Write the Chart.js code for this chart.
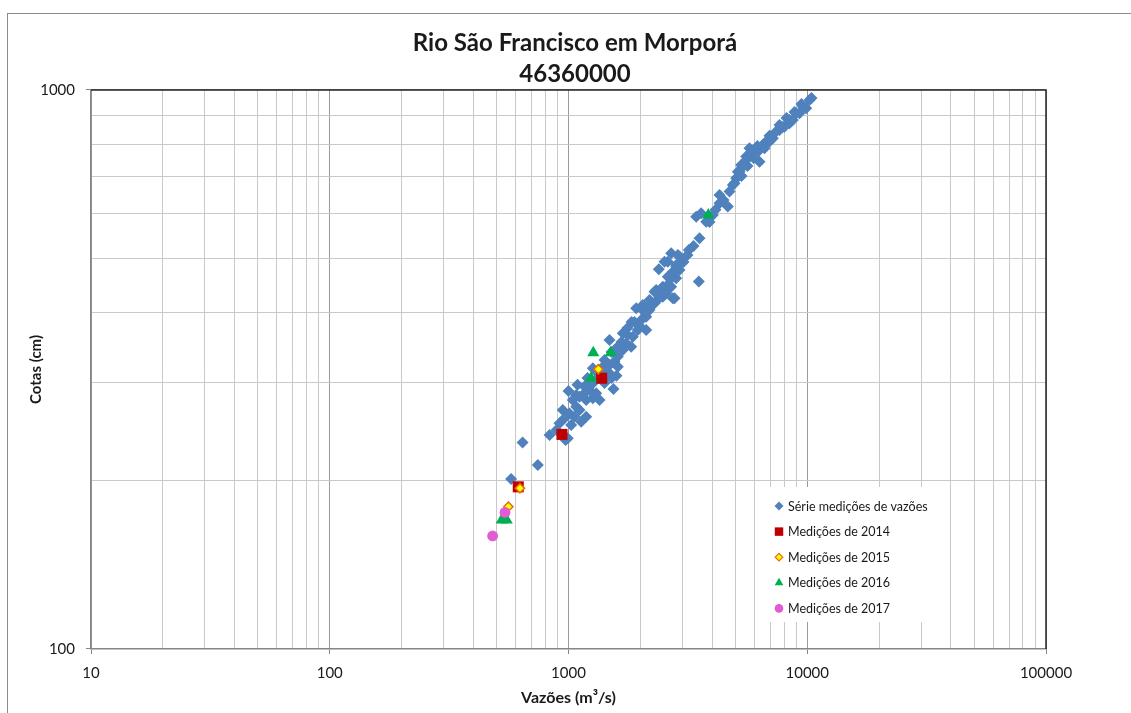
<!DOCTYPE html>
<html>
<head>
<meta charset="utf-8">
<script src="https://cdn.jsdelivr.net/npm/chart.js@4.4.1/dist/chart.umd.min.js"></script>
<style>
    html, body { margin: 0; padding: 0; background: #fff; overflow: hidden; }
    #frame { position: absolute; left: 7px; top: 13px; width: 1300px; height: 900px; border: 1px solid #8c8c8c; }
    #wrap { position: absolute; left: 0; top: 0; width: 1131px; height: 713px; }
</style>
</head>
<body>
<div id="frame"></div>
<div id="wrap"><canvas id="curva" width="1131" height="713"></canvas></div>
<script>

//
// Data (vazão m3/s, cota cm)
//

const serieQ = [
    575, 744, 642, 833, 993, 917, 962, 1026, 946, 1010,
    1059, 1130, 1186, 1077, 1112, 1042, 1112, 1186, 1167, 1224,
    1264, 1306, 1349, 1000, 1077, 1167, 1264, 1393, 1543, 1589,
    1485, 1438, 1264, 1393, 1485, 1558, 1609, 1609, 1485, 1688,
    1744, 1830, 1859, 1688, 1951, 2116, 2016, 2116, 2184, 2292,
    2406, 2566, 2692, 2825, 2780, 1921, 2048, 2184, 2483, 2292,
    2483, 2330, 2735, 2254, 2048, 2389, 2606, 2735, 2606, 2825,
    2692, 2870, 2917, 2524, 2825, 3191, 3514, 3538, 3427, 3596,
    3774, 4022, 4291, 4647, 4291, 4724, 4877, 4958, 5040, 5118,
    5118, 5202, 5288, 5370, 5549, 5549, 5729, 5824, 6013, 6112,
    6310, 6310, 6514, 6621, 6731, 6949, 7063, 7173, 7413, 7653,
    7902, 8029, 8428, 8428, 8700, 8990, 9280, 9581, 9900, 10218,
    10418, 891, 972, 1323, 1514, 1767, 1889, 1984, 1635, 1415,
    1514, 1091, 1201, 1310, 1415, 1558, 1667, 1767, 1836, 2082,
    2227, 2359, 2453, 2599, 2701, 2917, 3031, 3150, 3339, 3895,
    4127, 4460, 5304, 5619, 5954, 6187, 6949, 7653, 8187, 8844,
    9461
];
const serieH = [
    201.5, 213.4, 234.1, 241.5, 238.3, 253.4, 258.6, 251.6, 267.6, 263.9,
    260.3, 255.0, 260.3, 271.3, 267.6, 278.8, 282.7, 278.8, 286.7, 290.7,
    280.8, 286.7, 278.8, 289.5, 284.6, 294.7, 298.9, 302.9, 291.9, 308.0,
    311.4, 311.4, 317.8, 319.9, 322.2, 326.6, 319.9, 333.4, 357.1, 342.6,
    352.3, 347.4, 362.0, 367.1, 372.1, 372.1, 387.8, 393.0, 404.0, 415.3,
    426.8, 432.8, 444.7, 460.5, 424.1, 406.9, 412.5, 421.1, 444.7, 435.7,
    426.8, 438.7, 424.1, 415.3, 404.0, 477.9, 492.9, 473.1, 463.4, 483.0,
    510.5, 506.9, 503.4, 492.9, 486.3, 517.4, 454.1, 542.9, 593.4, 601.8,
    581.3, 597.6, 627.2, 618.4, 649.0, 657.9, 676.2, 680.9, 695.0, 699.7,
    714.2, 714.2, 734.2, 729.1, 759.8, 749.4, 786.4, 765.1, 780.9, 770.2,
    744.1, 780.9, 797.3, 786.4, 808.3, 808.3, 825.1, 819.6, 842.2, 848.0,
    859.7, 859.7, 883.7, 871.7, 883.7, 908.5, 908.5, 933.5, 927.4, 959.6,
    967.6, 246.5, 236.5, 305.4, 339.8, 364.5, 384.6, 378.3, 349.8, 299.2,
    305.4, 296.8, 305.4, 312.8, 328.9, 342.6, 354.1, 375.2, 384.6, 400.8,
    410.8, 421.1, 438.7, 447.9, 461.0, 476.4, 492.3, 506.9, 526.0, 580.6,
    610.2, 635.6, 701.8, 731.2, 755.8, 793.8, 827.7, 865.9, 891.2, 913.1,
    944.1
];

const q2014 = [939, 1377, 616];
const h2014 = [242, 305, 195];

const q2015 = [1333, 626, 560];
const h2015 = [316.5, 193.9, 179.7];

const q2016 = [1270, 1502, 1242, 3851, 525, 551];
const h2016 = [338.8, 338.8, 305, 597.6, 170.2, 170.2];

const q2017 = [542, 481];
const h2017 = [175.5, 159.3];

const xDecades = [10, 100, 1000, 10000, 100000];
const xTickLabels = ["10", "100", "1000", "10000", "100000"];
const yDecades = [100, 1000];
const yTickLabels = ["100", "1000"];

const seriesNames = [
    "Série medições de vazões",
    "Medições de 2014",
    "Medições de 2015",
    "Medições de 2016",
    "Medições de 2017"
];

//
// helpers
//

const FONT = "Lato, 'Open Sans', sans-serif";

function toPoints(qs, hs) {
    return qs.map((q, i) => ({ x: q, y: hs[i] }));
}

// log grid: 1..9 x each decade
function logGrid(decades) {
    const out = [];
    for (let d = 0; d < decades.length - 1; d++) {
        for (let m = 1; m < 10; m++) out.push(decades[d] * m);
    }
    out.push(decades[decades.length - 1]);
    return out;
}

function isDecade(v) {
    const l = Math.log10(v);
    return Math.abs(l - Math.round(l)) < 1e-9;
}

//
// plugins
//

const plotFrame = {
    id: "plotFrame",
    beforeDatasetsDraw(chart) {
        const { ctx, chartArea: { left, top, right, bottom } } = chart;
        ctx.save();
        ctx.strokeStyle = "#262626";
        ctx.lineWidth = 1.5;
        ctx.beginPath();
        ctx.moveTo(left, top);
        ctx.lineTo(right, top);
        ctx.lineTo(right, bottom);
        ctx.stroke();
        ctx.restore();
    }
};

const insideLegend = {
    id: "insideLegend",
    afterDatasetsDraw(chart) {
        const { ctx } = chart;
        const boxX = 757, boxY = 487, boxW = 180, boxH = 135;
        const markX = 779, textX = 788, rowY = 506, rowStep = 25.6;

        ctx.save();
        ctx.fillStyle = "#ffffff";
        ctx.fillRect(boxX, boxY, boxW, boxH);

        chart.data.datasets.forEach((ds, i) => {
            const y = rowY + i * rowStep;
            ctx.fillStyle = ds.backgroundColor;
            ctx.strokeStyle = ds.borderColor;
            ctx.lineWidth = ds.legendBorder;
            Chart.helpers.drawPoint(ctx, {
                pointStyle: ds.pointStyle,
                radius: ds.legendRadius,
                borderWidth: ds.legendBorder,
                rotation: 0
            }, markX, y);

            ctx.fillStyle = "#1a1a1a";
            ctx.font = "12.5px " + FONT;
            ctx.textBaseline = "middle";
            ctx.textAlign = "left";
            ctx.fillText(ds.label, textX, y + 0.5);
        });
        ctx.restore();
    }
};

//
// chart
//

const xGrid = logGrid(xDecades);
const yGrid = logGrid(yDecades);

const datasets = [
    {
        label: seriesNames[0],
        data: toPoints(serieQ, serieH),
        pointStyle: "rectRot",
        pointRadius: 6,
        borderWidth: 0,
        backgroundColor: "#4F81BD",
        borderColor: "#4F81BD",
        legendRadius: 4.5,
        legendBorder: 0,
        order: 5
    },
    {
        label: seriesNames[1],
        data: toPoints(q2014, h2014),
        pointStyle: "rect",
        pointRadius: 7.8,
        borderWidth: 0,
        backgroundColor: "#C00000",
        borderColor: "#C00000",
        legendRadius: 6,
        legendBorder: 0,
        order: 4
    },
    {
        label: seriesNames[2],
        data: toPoints(q2015, h2015),
        pointStyle: "rectRot",
        pointRadius: 4.6,
        borderWidth: 1.5,
        backgroundColor: "#FFFF00",
        borderColor: "#E46C0A",
        legendRadius: 3.8,
        legendBorder: 1.2,
        order: 3
    },
    {
        label: seriesNames[3],
        data: toPoints(q2016, h2016),
        pointStyle: "triangle",
        pointRadius: 7,
        borderWidth: 0,
        backgroundColor: "#00B050",
        borderColor: "#00B050",
        legendRadius: 5,
        legendBorder: 0,
        order: 2
    },
    {
        label: seriesNames[4],
        data: toPoints(q2017, h2017),
        pointStyle: "circle",
        pointRadius: 5.4,
        borderWidth: 0,
        backgroundColor: "#E15BD4",
        borderColor: "#E15BD4",
        legendRadius: 4.3,
        legendBorder: 0,
        order: 1
    }
].map(ds => Object.assign(ds, {
    xAxisID: "x",
    yAxisID: "y",
    pointHoverRadius: ds.pointRadius,
    pointBorderWidth: ds.borderWidth
}));

const gridColor = c => isDecade(c.tick.value) ? "#9a9a9a" : "#c9c9c9";
const tickColor = c => isDecade(c.tick.value) ? "#868686" : "rgba(0,0,0,0)";

new Chart(document.getElementById("curva"), {
    type: "scatter",
    data: { datasets },
    options: {
        responsive: false,
        animation: false,
        events: [],
        layout: { padding: { left: 19, right: 0, top: 0, bottom: 0 } },
        scales: {
            x: {
                type: "logarithmic",
                position: "bottom",
                min: 10,
                max: 100000,
                afterBuildTicks: s => { s.ticks = xGrid.map(v => ({ value: v })); },
                afterFit: s => { s.height = 64; },
                grid: { color: gridColor, tickColor: tickColor, tickLength: 5, lineWidth: 1 },
                border: { color: "#868686", width: 1.5 },
                ticks: {
                    autoSkip: false,
                    maxRotation: 0,
                    padding: 10,
                    color: "#1a1a1a",
                    font: { family: FONT, size: 15 },
                    callback: v => {
                        const k = xDecades.indexOf(v);
                        return k >= 0 ? xTickLabels[k] : "";
                    }
                },
                title: {
                    display: true,
                    text: "Vazões (m³/s)",
                    color: "#1a1a1a",
                    font: { family: FONT, size: 16, weight: "bold" },
                    padding: { top: 0, bottom: 5.4 }
                }
            },
            y: {
                type: "logarithmic",
                position: "left",
                min: 100,
                max: 1000,
                afterBuildTicks: s => { s.ticks = yGrid.map(v => ({ value: v })); },
                afterFit: s => { s.width = 72; },
                grid: { color: gridColor, tickColor: tickColor, tickLength: 5, lineWidth: 1 },
                border: { color: "#868686", width: 1.5 },
                ticks: {
                    autoSkip: false,
                    padding: 11,
                    color: "#1a1a1a",
                    font: { family: FONT, size: 15 },
                    callback: v => {
                        const k = yDecades.indexOf(v);
                        return k >= 0 ? yTickLabels[k] : "";
                    }
                },
                title: {
                    display: true,
                    text: "Cotas (cm)",
                    color: "#1a1a1a",
                    font: { family: FONT, size: 15, weight: "bold" },
                    padding: { top: 8, bottom: 0 }
                }
            },
            yRight: {
                type: "linear",
                position: "right",
                display: true,
                grid: { display: false, drawTicks: false },
                border: { display: false },
                ticks: { display: false },
                afterFit: s => { s.width = 85; }
            }
        },
        plugins: {
            legend: { display: false },
            tooltip: { enabled: false },
            title: {
                display: true,
                text: ["Rio São Francisco em Morporá", "46360000"],
                color: "#1a1a1a",
                font: { family: FONT, size: 24, weight: "bold", lineHeight: 1.29 },
                padding: { top: 27.5, bottom: 0.5 }
            }
        }
    },
    plugins: [plotFrame, insideLegend]
});
</script>
</body>
</html>
